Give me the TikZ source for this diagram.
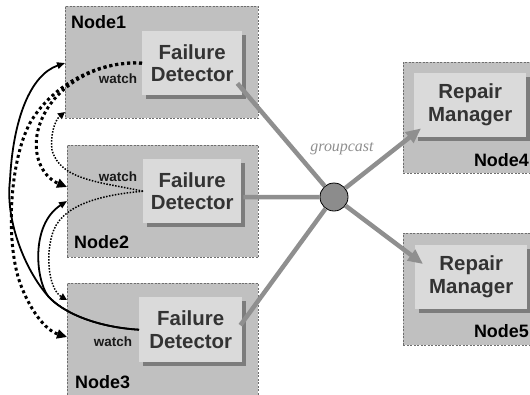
\documentclass[tikz,border=0pt]{standalone}
\usepackage{fontspec}
\setmainfont{Liberation Sans}
\newfontfamily\serifit{Liberation Serif}
\usetikzlibrary{arrows.meta,shadows,calc}
\definecolor{outerfill}{HTML}{C0C0C0}
\definecolor{outerline}{HTML}{6E6E6E}
\definecolor{innerfill}{HTML}{DADADA}
\definecolor{shadowc}{HTML}{7C7C7C}
\definecolor{innertext}{HTML}{333333}
\definecolor{linkc}{HTML}{8F8F8F}
\definecolor{hubc}{HTML}{8C8C8C}
\begin{document}
\begin{tikzpicture}[x=1bp,y=-1bp,
 outerbox/.style={draw=outerline, line width=0.6pt, dash pattern=on 2pt off 1.5pt, fill=outerfill, inner sep=0pt, anchor=north west},
 innerbox/.style={fill=innerfill, inner sep=0pt, anchor=north west, align=center, text=innertext, font=\fontsize{20.5}{23}\selectfont\bfseries, drop shadow={shadow xshift=4bp, shadow yshift=-4bp, fill=shadowc, opacity=1}},
 nodelabel/.style={font=\fontsize{18}{20}\selectfont\bfseries, inner sep=0pt},
 watchlabel/.style={font=\fontsize{13.5}{15}\selectfont\bfseries, inner sep=0pt, text=black!90},
 heavydot/.style={line width=3pt, dash pattern=on 3pt off 3pt, -{Triangle[length=10pt,width=9pt]}},
 lightdot/.style={line width=1.5pt, dash pattern=on 1.5pt off 1.5pt, -{Triangle[length=7pt,width=7pt]}},
 solidarc/.style={line width=1.8pt, -{Triangle[length=8pt,width=6.5pt]}},
 link/.style={draw=linkc, line width=4.5pt},
 linkarrow/.style={link, -{Triangle[length=15pt,width=13pt]}},
]
\useasboundingbox (0,0) rectangle (530,394);
\clip (0,0) rectangle (530,394);
% outer node boxes
\node[outerbox, minimum width=193bp, minimum height=112bp] (n1) at (65,6) {};
\node[outerbox, minimum width=191bp, minimum height=112bp] (n2) at (67,145) {};
\node[outerbox, minimum width=191bp, minimum height=112bp] (n3) at (67,283) {};
\node[outerbox, minimum width=140bp, minimum height=111bp] (n4) at (403,62) {};
\node[outerbox, minimum width=140bp, minimum height=112bp] (n5) at (403,233) {};
% inner boxes
\node[innerbox, minimum width=100bp, minimum height=64bp] (fd1) at (142,31) {Failure\\Detector};
\node[innerbox, minimum width=98bp, minimum height=64bp] (fd2) at (143,159) {Failure\\Detector};
\node[innerbox, minimum width=103bp, minimum height=65bp] (fd3) at (139,297) {Failure\\Detector};
\node[innerbox, minimum width=112bp, minimum height=64bp] (rm4) at (414,73) {Repair\\Manager};
\node[innerbox, minimum width=112bp, minimum height=64bp] (rm5) at (415,245) {Repair\\Manager};
% labels
\node[nodelabel, anchor=base west] (l1) at (71,28) {Node1};
\node[nodelabel, anchor=base west] (l2) at (74,248) {Node2};
\node[nodelabel, anchor=base west] (l3) at (75,388) {Node3};
\node[nodelabel, anchor=base east] (l4) at (529,166) {Node4};
\node[nodelabel, anchor=base east] (l5) at (529,337) {Node5};
\node[watchlabel, anchor=base] (w1) at (118,83) {watch};
\node[watchlabel, anchor=base] (w2) at (118,181) {watch};
\node[watchlabel, anchor=base] (w3) at (113,346) {watch};
% arc end points
\coordinate (a2) at ($(n2.north west)+(0,42)$);
\coordinate (b3) at ($(n3.north west)+(0,54)$);
\coordinate (c1) at ($(n1.north west)+(0,57)$);
\coordinate (c2) at ($(n2.north west)+(0,56)$);
\coordinate (d1) at ($(n1.north west)+(0,106)$);
\coordinate (d3) at ($(n3.north west)+(0,17)$);
% watch arcs
\draw[heavydot] (fd1.west) .. controls (95,60) and (45,90) .. (37,135) .. controls (33,160) and (45,178) .. (a2);
\draw[heavydot] (fd1.west) .. controls (95,60) and (50,88) .. (30,123) .. controls (10,160) and (5,240) .. (20,283) .. controls (30,310) and (45,330) .. (b3);
\draw[solidarc] (fd3.west) .. controls (95,327) and (62,312) .. (48,296) .. controls (25,270) and (5,220) .. (10,180) .. controls (13,120) and (30,75) .. (c1);
\draw[solidarc] (fd3.west) .. controls (95,327) and (62,312) .. (48,296) .. controls (36,280) and (30,225) .. (c2);
\draw[lightdot] (fd2.west) .. controls (100,182) and (60,180) .. (52,150) .. controls (50,135) and (55,120) .. (d1);
\draw[lightdot] (fd2.west) .. controls (100,195) and (60,205) .. (52,235) .. controls (45,260) and (50,290) .. (d3);
% groupcast
\node[circle, draw=black, line width=0.8pt, fill=hubc, minimum size=28bp, inner sep=0pt] (hub) at (334,197) {};
\coordinate (g1) at ($(fd1.south east)+(-5,-12)$);
\coordinate (g2) at ($(fd2.east)+(2,6)$);
\coordinate (g3) at ($(fd3.east)+(-2,-4.5)$);
\coordinate (t4) at ($(rm4.south west)+(7,-9)$);
\coordinate (t5) at ($(rm5.north west)+(8,19)$);
\draw[link] (g1) -- (hub);
\draw[link] (g2) -- (hub);
\draw[link] (g3) -- (hub);
\draw[linkarrow] (hub) -- (t4);
\draw[linkarrow] (hub) -- (t5);
\node[font=\serifit\itshape\fontsize{16}{18}\selectfont, text=linkc, anchor=base, inner sep=0pt] (gc) at (342,151) {groupcast};
\end{tikzpicture}
\end{document}
